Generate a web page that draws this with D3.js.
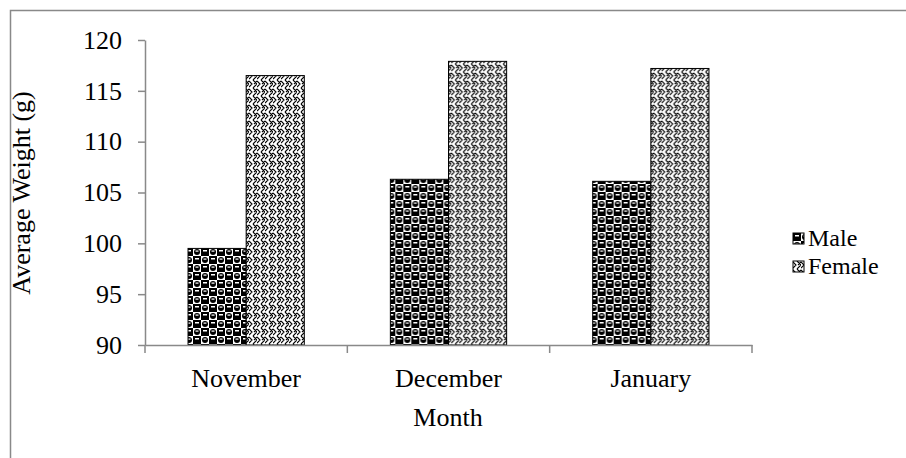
<!DOCTYPE html>
<html>
<head>
<meta charset="utf-8">
<script src="https://cdn.jsdelivr.net/npm/d3@7"></script>
<style>
  body { margin: 0; background: #fff; }
  text { font-family: "Liberation Serif", "Times New Roman", serif; fill: #000; }
</style>
</head>
<body>
<div id="chart"></div>
<script>
const months = ['November', 'December', 'January'];
const seriesNames = ['Male', 'Female'];
const male = [99.5, 106.3, 106.1];
const female = [116.5, 117.9, 117.2];
const yTicks = [90, 95, 100, 105, 110, 115, 120];

document.addEventListener('DOMContentLoaded', () => {
    const width = 906;
    const height = 458;
    const axisColor = '#898989';
    const fontSize = 26;
    const serif = '"Liberation Serif", "Times New Roman", serif';

    const svg = d3.select('#chart')
        .append('svg')
        .attr('width', width)
        .attr('height', height);

    // fill patterns
    const defs = svg.append('defs');
    const pm = defs.append('pattern')
        .attr('id', 'pat-male')
        .attr('patternUnits', 'userSpaceOnUse')
        .attr('width', 16).attr('height', 16);
    pm.append('rect').attr('width', 16).attr('height', 16).attr('fill', '#fff');
    [[0, 0], [8, 8]].forEach(([x, y]) => {
        pm.append('rect').attr('x', x).attr('y', y).attr('width', 8).attr('height', 8).attr('fill', '#000');
        pm.append('rect').attr('x', x + 2).attr('y', y + 2).attr('width', 4).attr('height', 1.5).attr('fill', '#fff');
    });
    [[8, 0], [0, 8]].forEach(([x, y]) => {
        pm.append('circle').attr('cx', x + 4).attr('cy', y + 4).attr('r', 3).attr('fill', '#000');
        pm.append('rect').attr('x', x + 2.5).attr('y', y + 2.5).attr('width', 3).attr('height', 1.2).attr('fill', '#fff');
    });

    const pf = defs.append('pattern')
        .attr('id', 'pat-female')
        .attr('patternUnits', 'userSpaceOnUse')
        .attr('width', 8).attr('height', 8);
    pf.append('rect').attr('width', 8).attr('height', 8).attr('fill', '#fff');
    pf.append('path')
        .attr('d', 'M0,1 L3,4 L0,7 M4,0 L8,4 L4,8 M8,1 L5,4')
        .attr('fill', 'none')
        .attr('stroke', '#000')
        .attr('stroke-width', 1.1);

    const fills = { Male: 'url(#pat-male)', Female: 'url(#pat-female)' };

    // outer frame
    svg.append('rect')
        .attr('x', 10.5).attr('y', 10.5)
        .attr('width', 1000).attr('height', 1000)
        .attr('fill', 'none')
        .attr('stroke', axisColor)
        .attr('stroke-width', 1.5);

    const x0 = d3.scaleBand()
        .domain(months)
        .range([145, 752]);

    const x1 = d3.scaleBand()
        .domain(seriesNames)
        .range([0, x0.bandwidth()])
        .paddingOuter(0.74);

    const yScale = d3.scaleLinear()
        .domain([90, 120])
        .range([345, 40]);

    const data = months.map((m, i) => ({ month: m, Male: male[i], Female: female[i] }));

    // bars
    const groups = svg.append('g')
        .selectAll('g')
        .data(data)
        .join('g')
        .attr('transform', (d) => `translate(${x0(d.month)},0)`);

    groups.selectAll('rect')
        .data((d) => seriesNames.map((s) => ({ key: s, value: d[s] })))
        .join('rect')
        .attr('x', (d) => x1(d.key))
        .attr('y', (d) => yScale(d.value))
        .attr('width', x1.bandwidth())
        .attr('height', (d) => yScale(90) - yScale(d.value))
        .attr('fill', (d) => fills[d.key])
        .attr('stroke', '#000')
        .attr('stroke-width', 1);

    // y axis
    const yAxis = svg.append('g')
        .attr('transform', 'translate(145,0)')
        .call(d3.axisLeft(yScale).tickValues(yTicks).tickSize(7).tickPadding(16).tickSizeOuter(0));

    // x axis with ticks between categories
    const xAxis = svg.append('g')
        .attr('transform', 'translate(0,345)')
        .call(d3.axisBottom(x0).tickSize(0).tickPadding(24));

    xAxis.selectAll('.sep')
        .data(months.concat(['end']))
        .join('line')
        .attr('class', 'sep')
        .attr('x1', (d) => d === 'end' ? x0.range()[1] : x0(d))
        .attr('x2', (d) => d === 'end' ? x0.range()[1] : x0(d))
        .attr('y1', 0).attr('y2', 8)
        .attr('stroke', axisColor)
        .attr('stroke-width', 1.5);

    [yAxis, xAxis].forEach((ax) => {
        ax.attr('font-family', serif).attr('font-size', fontSize);
        ax.select('.domain').attr('stroke', axisColor).attr('stroke-width', 1.5);
        ax.selectAll('.tick line').attr('stroke', axisColor).attr('stroke-width', 1.5);
        ax.selectAll('text')
            .style('font-family', serif)
            .style('font-size', fontSize + 'px')
            .attr('fill', '#000');
    });

    // axis titles
    svg.append('text')
        .attr('transform', 'translate(30,193) rotate(-90)')
        .attr('text-anchor', 'middle')
        .style('font-size', fontSize + 'px')
        .text('Average Weight (g)');

    svg.append('text')
        .attr('x', 448)
        .attr('y', 426)
        .attr('text-anchor', 'middle')
        .style('font-size', fontSize + 'px')
        .text('Month');

    // legend
    const legend = svg.append('g')
        .selectAll('g')
        .data(seriesNames)
        .join('g')
        .attr('transform', (d, i) => `translate(793,${233 + i * 28})`);

    legend.append('rect')
        .attr('x', 0).attr('y', 0)
        .attr('width', 11).attr('height', 11)
        .attr('fill', (d) => fills[d])
        .attr('stroke', '#000')
        .attr('stroke-width', 1);

    legend.append('text')
        .attr('x', 15)
        .attr('y', 13)
        .style('font-size', '24px')
        .text((d) => d);
});
</script>
</body>
</html>
